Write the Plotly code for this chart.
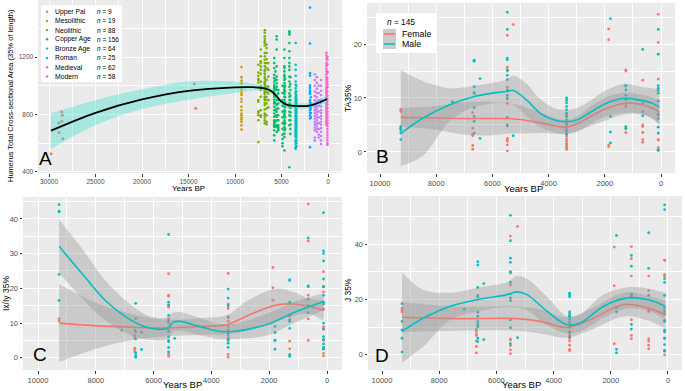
import plotly.graph_objects as go

W, H = 685, 391
FONT = "Liberation Sans, Arial, sans-serif"

# ---------------- Panel A data ----------------
periods = ["Upper Pal", "Mesolithic", "Neolithic", "Copper Age", "Bronze Age", "Roman", "Medieval", "Modern"]
period_n = [9, 19, 88, 156, 64, 25, 62, 58]
period_colors = ["#F8766D", "#CD9600", "#7CAE00", "#00BE67", "#00BFC4", "#00A9FF", "#C77CFF", "#FF61CC"]

upal_x = [29780, 28950, 28920, 28630, 28560, 28630, 28520, 14370, 14220]
upal_y = [527, 741, 674, 818, 795, 753, 631, 1013, 844]

meso_sx = [9300]
meso_sy = [[1130, 1060, 1036, 1018, 990, 971, 952, 936, 910, 889, 854, 830, 807, 795, 779, 765, 749, 725, 695]]

neo_sx = [7490, 7230, 6800, 6600, 6420]
neo_sy = [
    [1146, 1092, 1069, 1046, 1041, 1022, 990, 901, 889, 823, 812, 795, 760, 608],
    [1252, 1205, 1170, 1158, 1135, 1111, 1083, 1029, 999, 971, 924, 830, 795, 784],
    [1387, 1369, 1345, 1327, 1310, 1298, 1280, 1228, 1205, 1181, 1158, 1135, 1111, 1100, 1083, 1064,
     1029, 1006, 990, 971, 959, 943, 924, 910, 901, 882, 866, 835, 807, 795, 779, 760, 740, 1050, 1020, 980, 950],
    [1287, 1263, 1228, 1186, 1158, 1123, 1041, 994, 959, 924, 901, 877, 842, 795, 749, 732],
    [1158, 1111, 1064, 994, 947, 900, 850],
]

copper_sx = [5780, 5650, 5520, 5350, 4900, 4690, 4620, 4150, 4050]
copper_sy = [
    [1193, 1158, 1123, 1076, 1053, 1029, 1006, 994, 982, 966, 952, 936, 924, 905, 889, 877, 854, 830,
     807, 784, 760, 749, 737, 725, 713, 690, 655, 620],
    [1100, 1040, 980, 930, 880, 830, 790, 750, 720],
    [1345, 1322, 1252, 1135, 1064, 1041, 1018, 994, 971, 936, 901, 866, 842, 819, 795, 784, 760, 725, 713, 678],
    [971, 947, 901, 877, 842, 795, 760, 725, 713, 702, 690],
    [1000, 950, 900, 860, 820, 780, 740, 700, 660, 630, 600, 580],
    [1252, 1193, 1135, 1123, 1100, 1076, 1064, 1041, 1018, 999, 990, 975, 959, 943, 924, 901, 889, 866,
     854, 830, 807, 795, 784, 760, 749, 732, 713, 690, 667, 643, 550],
    [1050, 1000, 960, 920, 880, 850, 820, 780, 740, 700],
    [1380, 1369, 1357, 1298, 1240, 1193, 1158, 1135, 1111, 1064, 1029, 994, 947, 924, 901, 877, 854, 819,
     795, 760, 725, 433],
    [1060, 1010, 970, 930, 900, 870, 845, 815, 790, 760, 730, 700, 665],
]

bronze_sx = [3475, 3400]
bronze_sy = [
    [1298, 1146, 1111, 1069, 1029, 1006, 982, 959, 943, 924, 912, 901, 889, 882, 873, 863, 854, 842, 830,
     819, 807, 795, 784, 772, 760, 749, 737, 725, 713, 702, 690, 678, 667, 655, 643, 620, 608, 597, 573, 561],
    [1000, 960, 930, 910, 895, 880, 865, 850, 835, 820, 805, 790, 775, 760, 745, 730, 715, 700, 680, 660,
     640, 620, 600, 580],
]

roman_sx = [1935, 1850]
roman_sy = [
    [1544, 1294, 1088, 1071, 1001, 985, 966, 954, 943, 901, 889, 877, 859, 849, 830, 812, 795, 772, 573],
    [920, 880, 860, 840, 810, 780],
]

medieval_sx = [1420, 1200, 1000, 750]
medieval_sy = [
    [1080, 1040, 1000, 960, 930, 900, 870, 850, 830, 810, 790, 770, 750, 730, 710, 690, 640, 620],
    [1060, 1020, 980, 950, 920, 890, 860, 840, 820, 800, 780, 760, 740, 720, 700, 680],
    [1000, 950, 900, 860, 820, 780, 740, 700, 660, 640],
    [1040, 1000, 965, 935, 905, 880, 855, 830, 810, 790, 770, 750, 730, 705, 680, 650, 620, 595],
]

modern_sx = [170, 60]
modern_sy = [
    [1230, 1210, 1190, 1160, 1140, 1120, 1100, 1080, 1060, 1040, 1020, 1000, 985, 970, 955, 940, 925, 910,
     895, 880, 865, 850, 835, 820, 805, 790, 775, 760, 745, 730],
    [1200, 1180, 1150, 1100, 1090, 1050, 1030, 1010, 990, 960, 930, 910, 890, 870, 845, 820, 800, 780, 760,
     740, 720, 700, 680, 660, 640, 620, 600, 590],
]

a_fit_x = [29780, 25000, 20000, 15000, 10000, 8000, 6800, 6000, 5500, 5000, 4300, 3200, 2300, 1400, 100]
a_fit_y = [688, 812, 905, 965, 989, 990, 982, 959, 924, 889, 866, 859, 859, 873, 908]
a_fit_hi = [810, 900, 975, 1030, 1029, 1015, 1000, 978, 945, 910, 889, 878, 878, 892, 932]
a_fit_lo = [560, 725, 838, 903, 950, 965, 964, 940, 903, 868, 843, 840, 840, 854, 882]

# ---------------- Panel B (TA35%) ----------------
b_f_sx = [9260, 6700, 5470, 5260, 3360, 1860, 1250, 650, 100]
b_f_sy = [[7.5, 7.9], [4.4, 3.0, 3.2, 1.2, 0.5, 7.3],
          [21.6, 15.7, 15.0, 12.0, 9.8, 9.0, 5.0, 2.5, 2.2, 2.0, 1.3, 0.2], [23.6],
          [0.5, 0.8, 1.0, 1.3, 1.6, 2.0, 2.4, 2.9, 3.3, 3.8, 4.3, 4.8, 5.3, 5.9, 6.5, 7.0],
          [22.8, 20.8, 1.3, 1.0], [15.2, 15.0, 8.9, 8.4, 4.4, 3.6],
          [13.3, 7.5, 5.0, 4.7, 3.6, 2.3, 1.8], [25.5, 20.3, 13.5, 6.8, 3.5, 2.3, 2.2, 0.8, 0.3]]
b_m_sx = [9260, 7420, 6650, 6440, 5470, 5260, 3360, 1800, 1250, 650, 100]
b_m_sy = [[2.3, 3.5, 4.0, 4.4, 4.7], [9.3], [17.0, 16.8, 12.1, 11.0, 10.9, 8.2, 6.6, 5.7, 3.5], [13.6, 2.5],
          [25.9, 22.7, 17.4, 17.1, 15.2, 14.2, 13.4, 11.5, 10.5, 10.0, 6.4, 4.8], [3.0],
          [10.0, 9.6, 9.1, 8.4, 7.8, 7.2, 6.6, 5.9, 5.2, 4.6, 3.9, 3.3], [24.7, 6.6, 3.7, 1.7],
          [12.3, 12.2, 11.5, 10.5, 9.7, 4.7, 4.3], [19.0, 9.0, 6.7],
          [22.7, 18.1, 12.3, 11.8, 11.4, 10.9, 9.4, 7.0, 6.2, 4.6, 3.5, 0.3, 0.4]]
b_f_fit_x = [9260, 8000, 7000, 6000, 5400, 5000, 4200, 3400, 3000, 2500, 2000, 1300, 700, 300, 60]
b_f_fit_y = [6.4, 6.3, 6.2, 6.2, 6.2, 6.0, 5.3, 4.6, 5.2, 6.6, 7.9, 9.0, 8.8, 8.1, 7.4]
b_f_fit_hi = [8.1, 8.5, 9.2, 9.3, 9.0, 8.6, 7.1, 5.9, 6.5, 8.4, 10.0, 11.0, 10.6, 10.1, 9.6]
b_f_fit_lo = [4.7, 4.1, 3.2, 3.1, 3.4, 3.4, 3.5, 3.3, 3.9, 4.8, 5.8, 7.0, 7.0, 6.1, 5.2]
b_m_fit_x = [9260, 8500, 7500, 6700, 6000, 5500, 5250, 4800, 4300, 3800, 3400, 3000, 2500, 2000, 1350, 750, 300, 60]
b_m_fit_y = [3.4, 6.2, 8.8, 10.2, 10.9, 11.2, 11.4, 9.7, 7.2, 5.9, 5.6, 5.9, 7.4, 8.9, 9.9, 9.6, 9.0, 8.3]
b_m_fit_hi = [15.2, 13.2, 11.8, 12.2, 12.8, 13.4, 14.1, 12.7, 9.8, 8.1, 7.8, 8.1, 9.6, 11.3, 12.6, 12.1, 11.8, 11.6]
b_m_fit_lo = [-2.6, -0.8, 5.8, 8.2, 9.0, 9.0, 8.7, 6.7, 4.6, 3.7, 3.4, 3.7, 5.2, 6.5, 7.2, 7.1, 6.2, 5.0]

# ---------------- Panel C (Ix/Iy 35%) ----------------
c_f_sx = [9270, 6650, 5480, 3420, 1870, 1290, 650, 120]
c_f_sy = [[11.3, 10.6], [8.0, 6.4, 5.8, 2.5, 2.8, 1.8],
          [24.2, 18.0, 17.7, 15.0, 14.6, 11.2, 10.0, 8.0, 5.0, 0.4, 1.0],
          [24.3, 15.5, 14.2, 11.5, 10.5, 9.0, 8.0, 6.3, 5.5, 1.0, 0.2],
          [26.0, 20.2, 16.6], [15.9, 12.4, 12.0, 4.8, 2.6, 1.0], [44.3, 33.6, 18.0, 11.2, 5.0],
          [24.8, 20.5, 20.4, 19.0, 14.0, 9.0, 8.5, 5.0, 2.8, 1.3, 0.5]]
c_m_sx = [9270, 7100, 6620, 6420, 5480, 5270, 3420, 1800, 1290, 650, 120]
c_m_sy = [[44.1, 42.2, 42.0, 24.0, 16.5], [8.0], [15.7, 11.3, 7.5, 5.4, 1.4, 0.2, 0.6], [2.4, 7.4],
          [35.5, 16.0, 15.2, 12.2, 10.7, 7.5, 6.0, 4.7, 3.0, 1.7], [5.6],
          [19.8, 17.2, 15.0, 11.8, 8.0, 7.0, 5.5, 5.0, 4.2, 3.0], [9.0, 7.3, 5.0, 5.0, 2.5],
          [22.5, 22.2, 16.0, 11.0, 10.5, 8.5, 0.8, 0.4], [34.5, 20.7, 20.5, 16.9, 15.0, 13.0],
          [41.8, 30.8, 30.0, 27.9, 22.7, 20.5, 18.0, 16.0, 15.5, 10.0, 8.2, 6.1, 5.3, 4.0, 3.0, 2.5]]
c_f_fit_x = [9270, 7870, 6700, 5560, 4400, 3480, 2680, 1750, 1180, 600, 120]
c_f_fit_y = [10.0, 9.2, 8.8, 8.6, 9.0, 9.5, 12.4, 15.2, 15.5, 14.8, 13.6]
c_f_fit_hi = [21.2, 15.5, 12.5, 11.0, 11.4, 12.3, 16.8, 19.9, 19.0, 17.0, 16.6]
c_f_fit_lo = [-1.2, 2.9, 5.1, 6.2, 6.6, 6.7, 8.0, 10.5, 12.0, 12.6, 10.6]
c_m_fit_x = [9270, 8440, 7640, 6710, 6140, 5560, 5450, 5330, 5100, 4400, 3710, 3250, 2100, 1180, 120]
c_m_fit_y = [32.1, 23.9, 16.3, 10.5, 8.6, 8.4, 9.0, 10.2, 10.5, 9.0, 7.6, 7.6, 9.5, 12.9, 16.2]
c_m_fit_hi = [39.8, 31.0, 22.0, 14.8, 12.0, 11.6, 12.4, 13.0, 13.2, 11.5, 9.8, 9.8, 12.6, 16.0, 18.6]
c_m_fit_lo = [24.4, 16.8, 10.6, 6.2, 5.2, 5.2, 6.0, 7.4, 7.8, 6.5, 5.4, 5.4, 6.4, 9.8, 13.8]

# ---------------- Panel D (J 35%) ----------------
d_f_sx = [9300, 6700, 5510, 5260, 3440, 1880, 1280, 675, 120]
d_f_sy = [[16.8, 16.0, 15.5], [9.3, 8.5, 7.5, 7.0, 5.0, 3.0, 0.7],
          [43.0, 30.0, 29.6, 25.3, 22.0, 5.7, 5.4, 3.3, 1.8, 0.4], [46.5],
          [14.0, 12.0, 10.0, 8.5, 7.3, 6.0, 5.0, 3.5, 2.0, 1.5], [39.0, 25.0, 4.0],
          [39.2, 34.8, 28.5, 12.7, 7.0, 5.8], [28.5, 23.3, 16.2, 15.6, 5.8, 5.0, 3.5, 2.2],
          [34.3, 34.2, 29.0, 28.5, 15.0, 14.7, 6.0, 1.6, 0.0]]
d_m_sx = [9300, 7120, 6650, 6440, 5510, 5260, 3440, 1800, 1280, 675, 120]
d_m_sy = [[18.5, 12.1, 9.0, 6.0, 1.0], [16.5],
          [33.7, 32.5, 24.4, 21.5, 21.0, 15.4, 14.0, 12.0, 11.0, 10.2, 6.0, 4.8], [25.8, 5.5],
          [50.5, 41.3, 35.0, 33.5, 30.0, 26.3, 20.6, 19.6, 12.7, 9.8, 4.0], [6.2],
          [22.3, 21.7, 21.0, 15.5, 14.8, 14.0, 13.0, 11.5, 10.0, 8.2, 6.5], [43.2, 17.2, 15.5, 2.0, 0.7],
          [36.0, 32.1, 22.0, 21.5, 21.0, 11.0, 9.3], [44.2, 31.3, 21.5],
          [54.3, 52.6, 27.6, 26.2, 21.5, 17.0, 16.0, 12.5, 12.0, 9.0, 8.3, 6.0, 3.7, 1.5, 1.3]]
d_f_fit_x = [9300, 7380, 5280, 4470, 3530, 2720, 1550, 730, 90]
d_f_fit_y = [13.6, 13.1, 13.1, 12.1, 9.9, 12.7, 18.2, 17.0, 14.5]
d_f_fit_hi = [19.0, 17.5, 17.5, 16.5, 13.6, 16.5, 22.5, 21.5, 19.5]
d_f_fit_lo = [8.2, 8.7, 8.7, 7.7, 6.2, 8.9, 13.9, 12.5, 9.5]
d_m_fit_x = [9300, 8545, 7610, 6560, 5630, 5280, 4930, 4230, 3530, 3070, 2250, 1430, 730, 90]
d_m_fit_y = [8.5, 13.3, 17.6, 20.2, 21.8, 22.8, 21.8, 15.8, 10.9, 11.5, 17.6, 20.6, 20.0, 17.6]
d_m_fit_hi = [29.8, 23.5, 22.5, 24.5, 26.3, 28.5, 27.5, 21.0, 14.0, 14.6, 21.8, 24.5, 24.0, 22.5]
d_m_fit_lo = [-2.8, 3.1, 12.7, 15.9, 17.3, 17.1, 16.1, 10.6, 7.8, 8.4, 13.4, 16.7, 16.0, 12.7]

FEMALE = "#F8766D"
MALE = "#00BFC4"
GRAY_FILL = "rgba(153,153,153,0.4)"


def expand(sx, sy):
    xs, ys = [], []
    for x, col in zip(sx, sy):
        for y in col:
            xs.append(x)
            ys.append(y)
    return xs, ys


fig = go.Figure()


def pts(x, y, color, ax, size=3):
    fig.add_trace(go.Scatter(x=x, y=y, mode="markers", xaxis="x" + ax, yaxis="y" + ax,
                             marker=dict(color=color, size=size, line=dict(width=0)),
                             showlegend=False, hoverinfo="skip"))


def band(x, lo, hi, fill, ax):
    fig.add_trace(go.Scatter(x=x, y=lo, mode="lines", xaxis="x" + ax, yaxis="y" + ax,
                             line=dict(width=0, shape="spline"), showlegend=False, hoverinfo="skip"))
    fig.add_trace(go.Scatter(x=x, y=hi, mode="lines", xaxis="x" + ax, yaxis="y" + ax, fill="tonexty",
                             fillcolor=fill, line=dict(width=0, shape="spline"), showlegend=False,
                             hoverinfo="skip"))


def fitline(x, y, color, ax, width=1.6):
    fig.add_trace(go.Scatter(x=x, y=y, mode="lines", xaxis="x" + ax, yaxis="y" + ax,
                             line=dict(color=color, width=width, shape="spline"), showlegend=False,
                             hoverinfo="skip"))


# Panel A
pts(upal_x, upal_y, period_colors[0], "")
for (sx, sy), col in zip([(meso_sx, meso_sy), (neo_sx, neo_sy), (copper_sx, copper_sy),
                          (bronze_sx, bronze_sy), (roman_sx, roman_sy), (medieval_sx, medieval_sy),
                          (modern_sx, modern_sy)], period_colors[1:]):
    xs, ys = expand(sx, sy)
    pts(xs, ys, col, "", 2.6)
band(a_fit_x, a_fit_lo, a_fit_hi, "rgba(64,224,208,0.4)", "")
fitline(a_fit_x, a_fit_y, "black", "", 1.8)

# Panels B, C, D
for ax, fsx, fsy, msx, msy, ff, mf in [
    ("2", b_f_sx, b_f_sy, b_m_sx, b_m_sy,
     (b_f_fit_x, b_f_fit_y, b_f_fit_lo, b_f_fit_hi), (b_m_fit_x, b_m_fit_y, b_m_fit_lo, b_m_fit_hi)),
    ("3", c_f_sx, c_f_sy, c_m_sx, c_m_sy,
     (c_f_fit_x, c_f_fit_y, c_f_fit_lo, c_f_fit_hi), (c_m_fit_x, c_m_fit_y, c_m_fit_lo, c_m_fit_hi)),
    ("4", d_f_sx, d_f_sy, d_m_sx, d_m_sy,
     (d_f_fit_x, d_f_fit_y, d_f_fit_lo, d_f_fit_hi), (d_m_fit_x, d_m_fit_y, d_m_fit_lo, d_m_fit_hi)),
]:
    xs, ys = expand(fsx, fsy)
    pts(xs, ys, FEMALE, ax, 2.8)
    xs, ys = expand(msx, msy)
    pts(xs, ys, MALE, ax, 2.8)
    band(ff[0], ff[2], ff[3], GRAY_FILL, ax)
    fitline(ff[0], ff[1], FEMALE, ax)
    band(mf[0], mf[2], mf[3], GRAY_FILL, ax)
    fitline(mf[0], mf[1], MALE, ax)


def px(v):
    return v / W


def py(v):
    return 1 - v / H


def xax(l, r, rng, dtick, minor, fsize):
    return dict(domain=[px(l), px(r)], range=rng, dtick=dtick, tick0=0, tickformat="d",
                showgrid=True, gridcolor="white", gridwidth=1.1, zeroline=False,
                ticks="outside", ticklen=2.5, tickcolor="#333333", tickwidth=0.8,
                tickfont=dict(size=fsize, color="#4D4D4D", family=FONT),
                minor=dict(dtick=minor, tick0=0, showgrid=True, gridcolor="white", gridwidth=0.5, ticks=""),
                showline=False, fixedrange=True, automargin=False)


def yax(t, b, rng, dtick, minor, fsize):
    return dict(domain=[py(b), py(t)], range=rng, dtick=dtick, tick0=0,
                showgrid=True, gridcolor="white", gridwidth=1.1, zeroline=False,
                ticks="outside", ticklen=2.5, tickcolor="#333333", tickwidth=0.8,
                tickfont=dict(size=fsize, color="#4D4D4D", family=FONT),
                minor=dict(dtick=minor, tick0=0, showgrid=True, gridcolor="white", gridwidth=0.5, ticks=""),
                showline=False, fixedrange=True, automargin=False)


layout = dict(
    width=W, height=H, margin=dict(l=0, r=0, t=0, b=0),
    paper_bgcolor="white", plot_bgcolor="#EBEBEB", showlegend=False,
    font=dict(family=FONT),
    xaxis=dict(xax(38, 342, [31183, -1505], 5000, 2500, 6.5), anchor="y"),
    yaxis=dict(yax(0, 173, [393, 1597], 400, 200, 6.5), anchor="x"),
    xaxis2=dict(xax(367, 675, [10463, -498], 2000, 1000, 7.5), anchor="y2"),
    yaxis2=dict(yax(3, 173, [-3.9, 27.6], 10, 5, 7.5), anchor="x2"),
    xaxis3=dict(xax(23, 342, [10519, -519], 2000, 1000, 7.5), anchor="y3"),
    yaxis3=dict(yax(197, 370, [-3.5, 46.3], 10, 5, 7.5), anchor="x3"),
    xaxis4=dict(xax(368, 682, [10490, -490], 2000, 1000, 7.5), anchor="y4"),
    yaxis4=dict(yax(196, 370, [-5.5, 57.5], 20, 10, 7.5), anchor="x4"),
)
fig.update_layout(**layout)

ann = []


def text(x, y, s, size, color="black", angle=0, xanchor="center"):
    ann.append(dict(x=px(x), y=py(y), xref="paper", yref="paper", text=s, showarrow=False,
                    font=dict(size=size, color=color, family=FONT), textangle=angle,
                    xanchor=xanchor, yanchor="middle"))


# axis titles
text(188, 188, "Years BP", 8)
text(10, 96, "Humerus Total Cross-sectional Area (35% of length)", 7.5, angle=-90)
text(523, 188, "Years BP", 9.5)
text(348, 98, "TA35%", 8.5, angle=-90)
text(182, 384, "Years BP", 9.5)
text(6, 294, "Ix/Iy 35%", 8.5, angle=-90)
text(521, 384, "Years BP", 9.5)
text(348, 290, "J 35%", 8.5, angle=-90)

# panel letters
text(45, 158, "A", 19)
text(382, 156, "B", 19)
text(40, 354, "C", 19)
text(382, 355, "D", 19)

shapes = []
# legend A
shapes.append(dict(type="rect", xref="paper", yref="paper", x0=px(41), x1=px(122), y0=py(82), y1=py(5),
                   fillcolor="white", line=dict(width=0), layer="above"))
row_y = [11.7, 20.9, 30.1, 39.3, 48.6, 57.9, 67.2, 76.5]
for name, n, col, yy in zip(periods, period_n, period_colors, row_y):
    shapes.append(dict(type="circle", xref="paper", yref="paper", x0=px(45.8), x1=px(48.2),
                       y0=py(yy + 1.2), y1=py(yy - 1.2), fillcolor=col, line=dict(width=0), layer="above"))
    text(52.5, yy, name, 6.8, xanchor="left")
    text(95, yy, "<i>n</i> = %d" % n, 6.5, xanchor="left")

# legend B
shapes.append(dict(type="rect", xref="paper", yref="paper", x0=px(376), x1=px(437), y0=py(53), y1=py(13),
                   fillcolor="white", line=dict(width=0), layer="above"))
shapes.append(dict(type="rect", xref="paper", yref="paper", x0=px(383), x1=px(396), y0=py(49), y1=py(29),
                   fillcolor="#CBCBCB", line=dict(width=0), layer="above"))
for col, yy in [(FEMALE, 34), (MALE, 44)]:
    shapes.append(dict(type="line", xref="paper", yref="paper", x0=px(384), x1=px(395), y0=py(yy), y1=py(yy),
                       line=dict(color=col, width=1.6), layer="above"))
text(385, 21.5, "<i>n</i> = 145", 8.3, xanchor="left")
text(400, 34, "Female", 8.8, xanchor="left")
text(400, 44, "Male", 8.8, xanchor="left")

fig.update_layout(annotations=ann, shapes=shapes)
fig.write_html("out.html", config={"displayModeBar": False},
               post_script="document.body.style.margin='0px';")
